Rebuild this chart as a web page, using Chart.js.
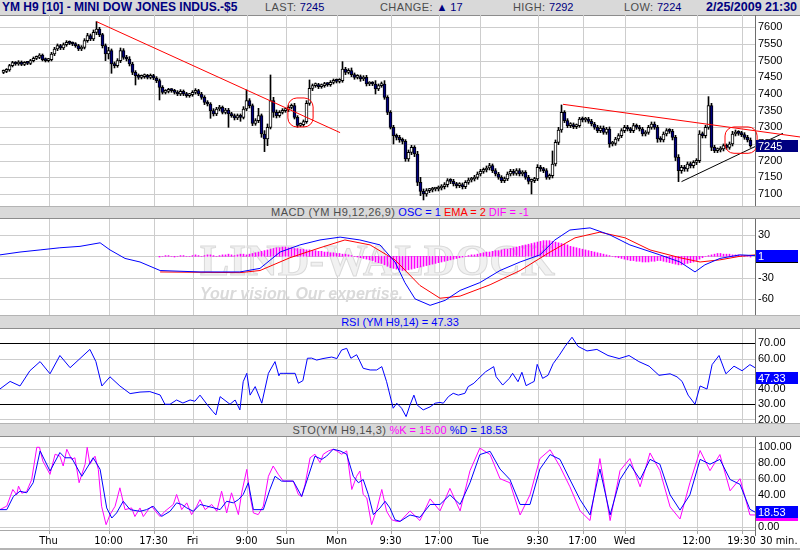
<!DOCTYPE html>
<html><head><meta charset="utf-8">
<script src="https://cdn.jsdelivr.net/npm/chart.js@4.4.1/dist/chart.umd.min.js"></script>
<style>
html,body{margin:0;padding:0;background:#fff;}
body{width:800px;height:550px;position:relative;overflow:hidden;font-family:"Liberation Sans",Arial,sans-serif;}
.hb{position:absolute;left:0;width:800px;background:#d9d9d9;border-top:1px solid #b4b4b4;border-bottom:1px solid #8c8c8c;box-sizing:border-box;font-size:11px;white-space:nowrap;}
.hb span.a{position:absolute;top:0px;}
.ctr{position:absolute;left:0;width:800px;text-align:center;top:0px;font-size:11px;}
canvas{position:absolute;left:0;}
.g{color:#4c4c4c;letter-spacing:0.4px}
.n{color:#000080}
</style></head><body>
<div class="hb" style="top:0;height:16px;border-top:none;line-height:14px">
  <span class="a" style="left:2px;font-weight:bold;font-size:12px;color:#000080">YM H9 [10] - MINI DOW JONES INDUS.-$5</span>
  <span class="a" style="left:265px"><span class="g">LAST: </span><span class="n">7245</span></span>
  <span class="a" style="left:380px"><span class="g">CHANGE: </span><span class="n">&#9650; 17</span></span>
  <span class="a" style="left:513px"><span class="g">HIGH: </span><span class="n">7292</span></span>
  <span class="a" style="left:624px"><span class="g">LOW: </span><span class="n">7224</span></span>
  <span class="a" style="left:706px;font-weight:bold;font-size:12.5px;color:#000080">2/25/2009 21:30</span>
</div>
<canvas id="cP" width="800" height="191" style="top:15px"></canvas>
<div class="hb" style="top:206px;height:13px;line-height:11px"><div class="ctr"><span class="g">MACD (YM H9,12,26,9)</span> <span style="color:#0000ff">OSC = 1</span> <span style="color:#ff0000">EMA = 2</span> <span style="color:#ff00ff">DIF = -1</span></div></div>
<canvas id="cM" width="800" height="96" style="top:219px"></canvas>
<div class="hb" style="top:315px;height:14px;line-height:12px"><div class="ctr"><span style="color:#0000ff">RSI (YM H9,14) = 47.33</span></div></div>
<canvas id="cR" width="800" height="94" style="top:329px"></canvas>
<div class="hb" style="top:423px;height:14px;line-height:12px"><div class="ctr"><span class="g">STO(YM H9,14,3)</span> <span style="color:#ff00ff">%K = 15.00</span> <span style="color:#0000ff">%D = 18.53</span></div></div>
<canvas id="cS" width="800" height="111" style="top:437px"></canvas>
<div style="position:absolute;left:760px;top:534px;font-size:11px;font-family:'Liberation Sans Narrow','DejaVu Sans Condensed','Liberation Sans';color:#000">30 min.</div>
<div style="position:absolute;left:0;top:548px;width:800px;height:2px;background:#b4b4b4"></div>
<script>
// ---- time axis ----
const tickIdx=[15,35,50,63,81,94,111,129,145,159,178,193,207,231,246];
const tickText=['Thu','10:00','17:30','Fri','9:00','Sun','Mon','9:30','17:00','Tue','9:30','17:00','Wed','12:00','19:30'];
// ---- price (30 min bars) ----
const openP=[7465,7468,7472,7485,7494,7490,7496,7489,7493,7492,
7500,7507,7510,7517,7503,7500,7503,7520,7535,7545,
7538,7548,7555,7552,7550,7545,7535,7540,7560,7575,
7565,7585,7595,7578,7545,7520,7530,7490,7485,7500,
7530,7510,7505,7490,7465,7455,7450,7452,7455,7450,
7455,7448,7440,7420,7405,7408,7412,7410,7405,7400,
7408,7400,7395,7398,7405,7410,7400,7390,7375,7370,
7350,7340,7355,7360,7345,7352,7340,7335,7328,7335,
7330,7355,7380,7365,7312,7320,7335,7280,7265,7300,
7380,7345,7335,7345,7350,7352,7360,7365,7330,7306,
7308,7317,7372,7417,7425,7428,7422,7425,7430,7428,
7435,7440,7438,7440,7475,7465,7470,7458,7450,7452,
7445,7450,7430,7432,7430,7415,7425,7430,7390,7345,
7300,7275,7270,7262,7258,7205,7225,7240,7220,7135,
7108,7100,7110,7112,7115,7115,7118,7122,7128,7140,
7138,7130,7125,7128,7122,7135,7142,7145,7150,7160,
7168,7172,7178,7185,7170,7160,7150,7140,7145,7160,
7168,7162,7170,7160,7165,7150,7138,7140,7145,7180,
7175,7170,7150,7155,7190,7255,7292,7345,7320,7305,
7308,7302,7305,7325,7322,7325,7318,7310,7300,7290,
7298,7285,7295,7250,7252,7265,7275,7290,7300,7295,
7290,7305,7300,7295,7280,7285,7300,7310,7300,7265,
7262,7280,7290,7288,7270,7210,7170,7180,7175,7190,
7185,7195,7200,7280,7275,7300,7365,7240,7230,7232,
7235,7245,7240,7250,7280,7285,7282,7278,7270,7262];
const highP=[7472,7476,7489,7498,7497,7500,7499,7497,7497,7504,
7511,7514,7521,7520,7508,7507,7525,7540,7550,7549,
7553,7560,7559,7556,7554,7549,7545,7566,7582,7580,
7592,7617,7600,7582,7550,7540,7535,7496,7506,7538,
7536,7516,7512,7495,7470,7460,7457,7460,7459,7460,
7459,7452,7445,7425,7413,7417,7416,7414,7410,7413,
7412,7405,7402,7410,7416,7414,7405,7395,7380,7374,
7356,7360,7366,7364,7357,7357,7345,7340,7340,7340,
7362,7412,7386,7370,7326,7357,7340,7290,7310,7457,
7390,7352,7350,7356,7357,7365,7370,7372,7335,7313,
7322,7380,7442,7430,7433,7432,7430,7435,7434,7440,
7445,7445,7446,7497,7480,7476,7478,7463,7458,7457,
7455,7456,7437,7437,7440,7430,7436,7440,7395,7350,
7306,7280,7276,7268,7263,7232,7246,7245,7228,7150,
7115,7116,7117,7120,7120,7124,7128,7134,7146,7146,
7144,7135,7134,7133,7140,7148,7150,7156,7166,7174,
7178,7184,7192,7190,7176,7165,7155,7151,7166,7174,
7174,7176,7176,7170,7170,7156,7145,7150,7188,7186,
7180,7176,7160,7229,7262,7300,7367,7350,7326,7314,
7313,7310,7330,7331,7330,7330,7324,7315,7306,7304,
7304,7300,7301,7258,7270,7281,7296,7306,7306,7300,
7312,7310,7306,7300,7290,7306,7316,7316,7306,7272,
7286,7296,7296,7294,7276,7218,7186,7186,7196,7196,
7200,7206,7290,7286,7306,7392,7372,7246,7238,7242,
7250,7250,7256,7288,7292,7290,7288,7284,7276,7268];
const lowP=[7461,7464,7468,7481,7486,7486,7485,7485,7488,7488,
7496,7503,7506,7499,7496,7496,7499,7515,7530,7533,
7533,7543,7548,7545,7540,7530,7530,7535,7555,7560,
7560,7578,7572,7538,7500,7505,7462,7478,7480,7494,
7504,7499,7484,7458,7427,7444,7445,7447,7445,7445,
7443,7434,7382,7400,7400,7403,7405,7400,7395,7395,
7395,7390,7390,7393,7400,7395,7384,7368,7364,7327,
7334,7335,7350,7340,7340,7300,7330,7322,7323,7318,
7325,7350,7358,7305,7306,7314,7270,7227,7245,7295,
7330,7328,7330,7340,7345,7347,7355,7325,7300,7302,
7303,7312,7366,7410,7420,7416,7417,7420,7423,7423,
7430,7433,7433,7435,7458,7460,7452,7444,7445,7438,
7440,7424,7425,7425,7400,7410,7420,7384,7338,7295,
7250,7262,7255,7250,7198,7198,7218,7212,7125,7095,
7082,7093,7104,7106,7109,7109,7112,7115,7121,7131,
7124,7118,7119,7115,7116,7129,7136,7139,7144,7154,
7162,7166,7172,7164,7154,7144,7134,7134,7140,7154,
7156,7156,7154,7154,7144,7130,7100,7134,7140,7168,
7164,7144,7144,7148,7184,7248,7285,7314,7299,7299,
7296,7296,7300,7316,7316,7312,7304,7294,7284,7284,
7279,7279,7240,7244,7246,7259,7269,7284,7289,7284,
7284,7294,7289,7274,7274,7279,7294,7294,7255,7256,
7256,7274,7282,7262,7200,7137,7162,7168,7168,7178,
7178,7188,7194,7268,7268,7294,7230,7224,7224,7226,
7229,7234,7234,7244,7274,7276,7272,7264,7256,7240];
const closeP=[7468,7472,7485,7494,7490,7496,7489,7493,7492,7500,
7507,7510,7517,7503,7500,7503,7520,7535,7545,7538,
7548,7555,7552,7550,7545,7535,7540,7560,7575,7565,
7585,7595,7578,7545,7520,7530,7490,7485,7500,7530,
7510,7505,7490,7465,7455,7450,7452,7455,7450,7455,
7448,7440,7420,7405,7408,7412,7410,7405,7400,7408,
7400,7395,7398,7405,7410,7400,7390,7375,7370,7350,
7340,7355,7360,7345,7352,7340,7335,7328,7335,7330,
7355,7380,7365,7312,7320,7335,7280,7265,7300,7380,
7345,7335,7345,7350,7352,7360,7365,7330,7306,7308,
7317,7372,7417,7425,7428,7422,7425,7430,7428,7435,
7440,7438,7440,7475,7465,7470,7458,7450,7452,7445,
7450,7430,7432,7430,7415,7425,7430,7390,7345,7300,
7275,7270,7262,7258,7205,7225,7240,7220,7135,7108,
7100,7110,7112,7115,7115,7118,7122,7128,7140,7138,
7130,7125,7128,7122,7135,7142,7145,7150,7160,7168,
7172,7178,7185,7170,7160,7150,7140,7145,7160,7168,
7162,7170,7160,7165,7150,7138,7140,7145,7180,7175,
7170,7150,7155,7190,7255,7292,7345,7320,7305,7308,
7302,7305,7325,7322,7325,7318,7310,7300,7290,7298,
7285,7295,7250,7252,7265,7275,7290,7300,7295,7290,
7305,7300,7295,7280,7285,7300,7310,7300,7265,7262,
7280,7290,7288,7270,7210,7170,7180,7175,7190,7185,
7195,7200,7280,7275,7300,7365,7240,7230,7232,7235,
7245,7240,7250,7280,7285,7282,7278,7270,7262,7245];
const priceTicks=[7100,7150,7200,7250,7300,7350,7400,7450,7500,7550,7600];
// trend lines [x0,y0,x1,y1] in bar index / price
const redLine1=[31,7617,112.2,7284];
const redLine2=[186.5,7369,265.5,7271];
const blackLine=[226,7137,259.8,7282];
const circles=[[94.8,7388,103.2,7301],[240.5,7301,251.2,7222]];
// ---- MACD ----
const macdX=[-1.2,5.5,12.2,18.8,25.5,32.2,35.5,40.5,45.5,52.2,65.5,78.8,85.5,92.2,98.8,105.5,112.2,118.8,125.5,130.5,133.8,137.2,142.2,147.2,152.2,158.8,165.5,172.2,178.8,183.8,188.8,195.5,202.2,208.8,218.8,225.5,230.5,233.8,238.8,245.5,250.5];
const macdY=[2,6,9,12,14,19,9,-3,-8,-20,-22,-22,-17,6,16,23,27,23,16,-8,-37,-60,-69,-62,-48,-37,-20,-8,2,23,37,40,30,16,2,-8,-22,-12,-3,2,1];
const sigX=[52.2,78.8,85.5,95.5,105.5,113.8,122.2,130.5,138.8,145.5,152.2,162.2,172.2,182.2,190.5,198.8,207.2,215.5,225.5,232.2,238.8,245.5,250.5];
const sigY=[-22,-23,-20,-2,12,23,16,-5,-41,-59,-56,-40,-20,6,26,34,26,9,-2,-8,-5,0,2];
const histStart=52;
const histVals=[-1,0,1,1,0,-1,0,1,1,0, 0,1,2,1,0,1,2,2,1,0, 1,2,2,3,2,1,2,3,3,2,
3,4,5,6,7,8,9,10,11,12, 12,13,13,12,12,11,11,10,10,9, 9,8,8,7,7,6,6,5,5,4,
4,3,3,2,1,0,-1,-2,-3,-4, -5,-6,-8,-9,-10,-12,-14,-16,-17,-18, -19,-20,-20,-19,-18,-17,-16,-15,-14,-13,
-12,-11,-10,-9,-8,-7,-6,-5,-4,-3, -2,-1,0,1,2,2,3,4,5,6, 6,7,8,8,9,10,10,11,12,13,
14,15,16,17,18,19,20,21,22,22, 22,21,20,19,18,17,16,14,13,12, 11,10,9,8,7,6,5,4,3,2,
1,0,-1,-2,-3,-4,-5,-6,-6,-7, -7,-8,-8,-8,-7,-7,-6,-6,-7,-8, -9,-10,-11,-12,-12,-11,-10,-9,-8,-6,
-4,-2,0,1,2,3,4,4,3,3, 3,2,2,2,1,1,0,-1];
const macdTicks=[30,0,-30,-60];
const macdLabelTicks=[30,-30,-60];
// ---- RSI ----
const rsiX=[-1.2,2.2,5.5,8.8,12.2,15.5,18.8,22.2,25.5,28.8,30.8,32.8,35.5,38.8,42.2,45.5,48.8,52.2,53.8,55.5,57.7,59.8,62.2,63.8,65.5,67.8,69.8,70.8,72.2,75.5,77.2,78.8,79.9,81.1,82.2,83.9,86.1,88.3,90.5,91.8,92.2,93.2,97.2,98.3,99.8,101.3,102.7,104.4,106.5,109.4,111.1,112.7,114.4,115.8,117.7,118.6,119.9,122.2,124.4,126.1,127.7,129.9,131.1,132.7,134.2,135.5,136.8,137.9,139.9,142.2,143.9,145.5,146.6,148.3,149.9,151.6,153.8,154.9,156.8,157.9,160.7,163.4,164.2,166.4,168.6,169.7,171.5,172.8,174.2,175.9,176.9,177.9,179.7,181.5,183.2,185.2,187.2,189.5,191.5,194.5,197.8,201.5,205.2,208.5,211.8,215.2,218.5,222.2,224.5,226.2,228.2,230.5,232.2,234.5,236.2,238.5,240.8,243.5,246.2,248.8,250.5];
const rsiY=[40,45,42,52,58,50,62,54,60,66,58,42,48,42,37,38,38.3,36.1,30,30,32.8,30.8,32.8,32,36,30,25.2,23,35,30,32.8,26.3,44.8,50.3,36,41.6,30.7,50.3,58,48.7,50.3,50.3,50.3,43.8,45.5,60.2,60.3,59,60,61,60,65.6,66.7,60.2,62.5,59,53.6,52.5,52.5,54.7,44.8,27.4,30.7,27.4,21.9,29.5,36,29.5,26.3,28.3,30.7,31.2,30.7,35,37.2,36,37.2,41.6,43.8,46,51.3,54.7,48.1,42.6,47,50.3,44.8,51,42.2,44,45,56.2,47,49,56.6,62,68,74,68,65,66,62,60,62,58,55,49,50,48,45,36,30,42,40,56,62,50,55,52,56,54,52,47.33];
const rsiTicks=[20,30,40,50,60,70];
const rsiLabelTicks=[20,30,40,60,70];
const rsiLevels=[30,70];
// ---- Stochastic ----
const stoKX=[-1.2,1.1,3.1,4.4,5.0,6.1,7.7,9.4,11.1,12.0,13.1,15.5,17.2,18.8,19.9,21.1,22.7,23.8,25.2,27.2,27.9,28.8,30.5,31.6,32.7,34.2,35.5,37.2,38.8,40.5,42.7,43.8,45.5,46.6,48.3,49.4,51.1,52.2,53.8,56.6,57.7,59.4,61.1,62.7,64.4,65.5,67.2,69.4,71.1,72.7,74.4,76.0,78.3,79.4,81.1,82.2,83.3,84.9,86.6,88.3,89.9,91.6,93.3,96.6,98.3,99.4,100.5,102.2,103.8,105.5,106.6,108.3,109.9,111.1,112.7,114.4,116.1,117.7,118.8,119.9,121.1,122.7,124.4,126.1,127.7,129.4,131.1,132.2,135.5,138.8,142.2,145.5,148.8,152.2,155.5,158.8,162.2,165.5,168.8,172.2,175.5,178.8,182.2,185.5,188.8,192.2,195.5,198.8,202.2,205.5,208.8,212.2,215.5,218.8,222.2,225.5,228.8,232.2,235.5,238.8,242.2,245.5,248.8,250.5];
const stoKY=[21.6,26,46.6,40,50.8,42,44,59,99,99,82,65.4,90.4,88,75.8,96.6,84,86,55,78,99,78,88,71.6,25.8,2.9,15.4,25.8,48.7,21.6,23.7,13,23.7,13,21.6,25.8,17.5,13,19.5,28,40.4,21.6,30,15.4,25.8,34,21.6,28,19.5,44.5,17.5,42.5,15.4,42.5,71.6,38,17.5,15.4,25.8,63,75.8,65.4,57,57,40.4,38,52.5,86,90.4,80,90.4,94.5,96.6,94.5,90.4,94.5,46.6,63,69.5,40.4,36,2.9,21.6,46.6,19.5,9,7,7,20,8,35,20,48,20,70,98,90,60,55,15,40,85,96,75,50,20,8,85,8,70,85,50,92,70,25,10,55,95,70,90,45,60,15,15];
const stoDX=[-1.2,1.1,3.3,5.5,7.7,9.9,12.2,15.5,18.8,20.5,22.7,26.1,29.9,32.2,34.4,36.1,37.7,39.9,42.2,45.5,47.7,49.9,52.7,55.5,57.7,59.4,61.1,63.3,65.5,67.7,69.9,72.2,74.4,76.6,78.3,79.9,81.6,83.3,86.6,88.8,90.5,92.7,96.6,99.4,101.6,103.8,106.1,107.7,109.9,112.2,114.4,116.6,118.3,119.9,121.6,123.3,125.5,127.2,128.8,130.5,132.2,135.5,138.8,142.2,145.5,148.8,152.2,155.5,158.8,162.2,165.5,168.8,172.2,175.5,178.8,182.2,185.5,188.8,192.2,195.5,198.8,202.2,205.5,208.8,212.2,215.5,218.8,222.2,225.5,228.8,232.2,235.5,238.8,242.2,245.5,248.8,250.5];
const stoDY=[21.6,21.6,38,44.5,42.5,55,94.5,69.5,92.5,86,86,63,86,71.6,23.7,11.2,17.5,32,21.6,19.5,21.6,25.8,13.2,19.5,30,28,23.7,19.5,28,26,24,21.6,32,30,34,40.4,55,21.6,21.6,46.6,63,57,57,38,63,88,84,88,96.6,94.5,90.4,63,55,59,40.4,15.4,23.7,32,23.7,9,7,15,12,28,28,40,28,55,90,94,72,59,28,28,72,90,84,59,34,15,72,15,59,78,59,84,78,40,21,40,84,78,84,59,53,22,18.53];
const stoTicks=[0,20,40,60,80,100];
const stoLabelTicks=[0,40,60,80,100];
// ---- last values for the axis boxes ----
const macdBoxVals=[-1,1];
const rsiLast=47.33;
const stoBoxVals=[15.00,18.53];

// ================= rendering =================
const FONT='"Liberation Sans", Arial, sans-serif';
const NARROW="'Liberation Sans Narrow','DejaVu Sans Condensed','Liberation Sans',Arial";
Chart.defaults.font.family=FONT;
const GRID='#cdcdcd';
function xScale(show){return{type:'linear',min:-7/6,max:250.5,offset:false,
  afterBuildTicks(s){s.ticks=tickIdx.map(v=>({value:v}));},
  afterFit(s){s.paddingLeft=0;s.paddingRight=0;s.height=show?18:0;},
  grid:{display:false,drawTicks:false,offset:false},
  border:{display:false},
  ticks:{display:show,autoSkip:false,maxRotation:0,padding:5,color:'#000',font:{family:NARROW,size:11},callback:(v,i)=>tickText[i]}};}
function yScale(min,max,ticks,fmt){return{type:'linear',position:'right',min,max,
  afterBuildTicks(s){s.ticks=ticks.map(v=>({value:v}));},
  afterFit(s){s.width=45;s.paddingTop=0;s.paddingBottom=0;},
  grid:{display:false,drawTicks:false},
  border:{display:false},
  ticks:{autoSkip:false,padding:3,color:'#000',font:{family:FONT,size:11},callback:fmt}};}
// grid, levels and axis line drawn from the scales (behind the data)
function gridPlugin(yTicks,levels,bottomTicks){return{id:'gridlines',afterDatasetsDraw(chart){
  const c=chart.ctx,a=chart.chartArea,xs=chart.scales.x,ys=chart.scales.y;c.save();
  c.globalCompositeOperation='destination-over';
  if(levels){c.fillStyle='#000';for(const v of levels){const y=Math.round(ys.getPixelForValue(v));c.fillRect(a.left,y,a.right-a.left,1);}}
  c.fillStyle=GRID;
  for(const v of tickIdx){const x=Math.round(xs.getPixelForValue(v));c.fillRect(x,a.top,1,a.bottom-a.top);}
  for(const v of yTicks){const y=Math.round(ys.getPixelForValue(v));c.fillRect(a.left,y,a.right-a.left,1);}
  c.globalCompositeOperation='source-over';
  c.fillStyle='#6e6e6e';c.fillRect(Math.round(a.right),a.top,1,(bottomTicks?a.bottom+6:a.bottom)-a.top);
  if(bottomTicks){c.fillStyle='#a8a8a8';c.fillRect(a.left,Math.round(a.bottom),a.right-a.left,1);
    for(const v of tickIdx){const x=Math.round(xs.getPixelForValue(v));c.fillRect(x,a.bottom,1,4);}}
  c.restore();}};}
function boxes(list){return{id:'boxes',afterDraw(chart){const c=chart.ctx,y=chart.scales.y;c.save();
  for(const b of list){const py=Math.round(y.getPixelForValue(b.v));c.fillStyle=b.bg;c.fillRect(756,py-6,42,12);
   if(b.t){c.fillStyle='#fff';c.font='11px '+FONT;c.textBaseline='middle';c.textAlign='left';c.fillText(b.t,758,py+0.5);}}
  c.restore();}};}
const base={responsive:false,animation:false,events:[],layout:{padding:0},plugins:{legend:{display:false},tooltip:{enabled:false}}};
const pts=(xs,ys)=>xs.map((x,i)=>({x,y:ys[i]}));
const seg=a=>[{x:a[0],y:a[1]},{x:a[2],y:a[3]}];
const bi=closeP.map((_,i)=>i);
const only=(list,f)=>v=>list.includes(v)?f(v):'';

// price chart
const circlePlugin={id:'circ',afterDatasetsDraw(chart){const c=chart.ctx,xs=chart.scales.x,ys=chart.scales.y;c.save();c.strokeStyle='#ff0000';c.lineWidth=1;
  for(const r of circles){const x0=xs.getPixelForValue(r[0]),x1=xs.getPixelForValue(r[2]),y0=ys.getPixelForValue(r[1]),y1=ys.getPixelForValue(r[3]);
   c.beginPath();c.roundRect(x0,y0,x1-x0,y1-y0,9);c.stroke();}
  c.restore();}};
new Chart(document.getElementById('cP'),{type:'bar',
 data:{datasets:[
  {type:'line',data:seg(redLine1),borderColor:'#ff0000',borderWidth:1,pointRadius:0,clip:false,order:0},
  {type:'line',data:seg(redLine2),borderColor:'#ff0000',borderWidth:1,pointRadius:0,clip:false,order:0},
  {type:'line',data:seg(blackLine),borderColor:'#000000',borderWidth:1,pointRadius:0,clip:false,order:0},
  {data:bi.map(i=>({x:i,y:[openP[i],closeP[i]]})),backgroundColor:bi.map(i=>closeP[i]>=openP[i]?'#ffffff':'#000080'),borderColor:'#000',borderWidth:1,borderSkipped:false,barThickness:3,minBarLength:2,grouped:false,order:1},
  {data:bi.map(i=>({x:i,y:[lowP[i],highP[i]]})),backgroundColor:'#000',borderWidth:0,barThickness:1,grouped:false,order:2}
 ]},
 options:{...base,scales:{x:xScale(false),y:yScale(7063.9,7636.9,priceTicks,v=>String(v))}},
 plugins:[gridPlugin(priceTicks),circlePlugin,boxes([{v:closeP[closeP.length-1],bg:'#000080',t:String(closeP[closeP.length-1])}])]});

// MACD
const wm={id:'wm',beforeDatasetsDraw(chart){const c=chart.ctx,a=chart.chartArea;c.save();c.beginPath();c.rect(a.left,a.top,a.right-a.left,a.bottom-a.top);c.clip();
  c.font='bold 44px "Liberation Serif", serif';c.fillStyle='#f1f1f1';c.strokeStyle='#dadada';c.lineWidth=1;c.textBaseline='alphabetic';
  c.fillText('LIND-WALDOCK',200,56,355);c.strokeText('LIND-WALDOCK',200,56,355);
  c.font='italic bold 16px '+FONT;c.fillStyle='#dadada';c.fillText('Your vision. Our expertise.',200,80,220);c.restore();}};
new Chart(document.getElementById('cM'),{type:'bar',
 data:{datasets:[
  {type:'line',data:pts(macdX,macdY),borderColor:'#0000ff',borderWidth:1,pointRadius:0,order:0},
  {type:'line',data:pts(sigX,sigY),borderColor:'#ff0000',borderWidth:1,pointRadius:0,order:1},
  {data:histVals.map((v,k)=>({x:histStart+k,y:v})),backgroundColor:'#ff00ff',borderWidth:0,barThickness:1,grouped:false,order:2}
 ]},
 options:{...base,scales:{x:xScale(false),y:yScale(-82.6,52.5,macdTicks,only(macdLabelTicks,v=>String(v)))}},
 plugins:[wm,gridPlugin(macdTicks),boxes([{v:macdBoxVals[0],bg:'#000000'},{v:macdBoxVals[1],bg:'#0000ff',t:String(macdBoxVals[1])}])]});

// RSI
new Chart(document.getElementById('cR'),{type:'line',
 data:{datasets:[{data:pts(rsiX,rsiY),borderColor:'#0000ff',borderWidth:1,pointRadius:0}]},
 options:{...base,scales:{x:xScale(false),y:yScale(17.7,79.4,rsiTicks,only(rsiLabelTicks,v=>v.toFixed(2)))}},
 plugins:[gridPlugin(rsiTicks,rsiLevels),boxes([{v:rsiLast,bg:'#0000ff',t:rsiLast.toFixed(2)}])]});

// Stochastic
new Chart(document.getElementById('cS'),{type:'line',
 data:{datasets:[
  {data:pts(stoDX,stoDY),borderColor:'#0000ff',borderWidth:1,pointRadius:0,order:0},
  {data:pts(stoKX,stoKY),borderColor:'#ff00ff',borderWidth:1,pointRadius:0,order:1}
 ]},
 options:{...base,scales:{x:xScale(true),y:yScale(-3.7,111.8,stoTicks,only(stoLabelTicks,v=>v.toFixed(2)))}},
 plugins:[gridPlugin(stoTicks,null,true),boxes([{v:stoBoxVals[0],bg:'#ff00ff'},{v:stoBoxVals[1],bg:'#0000ff',t:stoBoxVals[1].toFixed(2)}])]});
</script>
</body></html>
